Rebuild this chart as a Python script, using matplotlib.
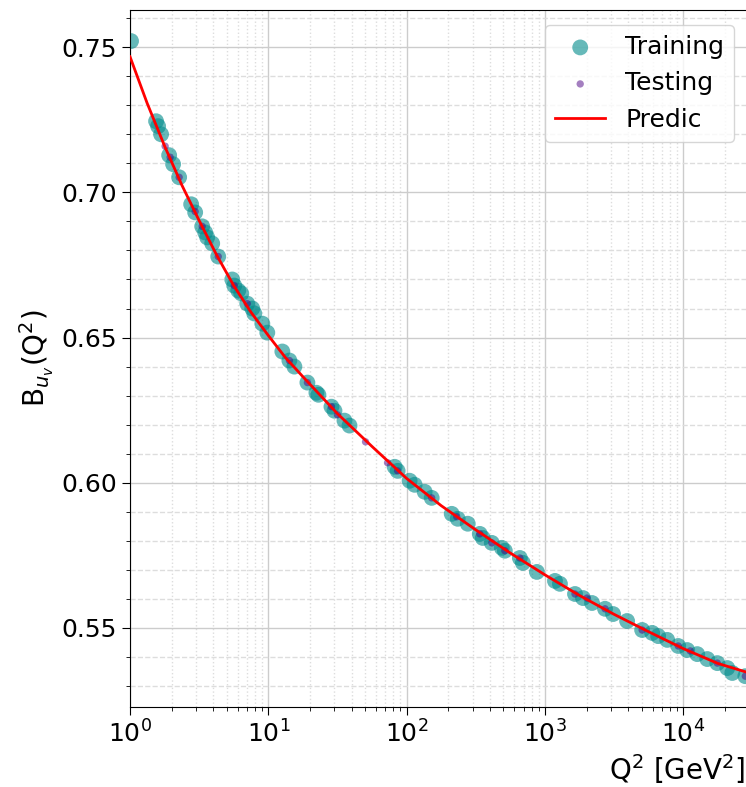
import matplotlib.pyplot as plt
from matplotlib.ticker import MultipleLocator

# training points: Q^2 and B_uv
q2_train = [1.017, 1.543, 1.596, 1.677, 1.918, 2.049, 2.265, 2.767, 2.958, 3.325,
            3.495, 3.614, 3.928, 4.342, 5.485, 5.671, 6.062, 6.373, 7.043, 7.656,
            7.917, 9.05, 9.83, 12.63, 14.20, 15.43, 19.17, 22.27, 23.03, 28.61,
            30.08, 35.53, 38.64, 81.9, 86.1, 105.1, 114.3, 135.0, 151.8, 211.9,
            234.2, 276.7, 338.1, 355.4, 413.0, 488.0, 512.9, 658.9, 692.8, 875.0,
            1182, 1284, 1650, 1886, 2191, 2721, 3111, 3929, 5046, 5963,
            6590, 7659, 9201, 10690, 12630, 14930, 17640, 20830, 22650, 28130]
b_train = [0.7521, 0.7245, 0.7228, 0.7200, 0.7128, 0.7097, 0.7052, 0.6959, 0.6931, 0.6883,
           0.6862, 0.6845, 0.6824, 0.6779, 0.6700, 0.6679, 0.6662, 0.6652, 0.6617, 0.6600,
           0.6583, 0.6548, 0.6517, 0.6452, 0.6421, 0.6400, 0.6345, 0.6310, 0.6303, 0.6262,
           0.6248, 0.6214, 0.6197, 0.6055, 0.6041, 0.6007, 0.5993, 0.5969, 0.5948, 0.5893,
           0.5876, 0.5859, 0.5824, 0.5810, 0.5793, 0.5776, 0.5766, 0.5741, 0.5724, 0.5693,
           0.5662, 0.5652, 0.5617, 0.5603, 0.5586, 0.5566, 0.5548, 0.5524, 0.5493, 0.5483,
           0.5472, 0.5459, 0.5438, 0.5424, 0.5410, 0.5393, 0.5379, 0.5362, 0.5345, 0.5334]

# testing points
q2_test = [1.794, 1.949, 2.265, 2.958, 3.325, 4.342, 5.671, 7.043, 14.20, 19.17,
           28.61, 31.62, 50.45, 72.8, 86.1, 151.8, 230.3, 338.1, 413.0, 512.9,
           658.9, 1650, 2015, 2721, 5046, 9201, 11240, 17640, 28130]
b_test = [0.7159, 0.7121, 0.7052, 0.6934, 0.6883, 0.6779, 0.6679, 0.6617, 0.6421, 0.6345,
          0.6262, 0.6234, 0.6141, 0.6069, 0.6041, 0.5948, 0.5883, 0.5824, 0.5793, 0.5766,
          0.5741, 0.5617, 0.5603, 0.5566, 0.5493, 0.5438, 0.5421, 0.5379, 0.5334]

# prediction curve
q2_pred = [1, 1.33, 1.78, 2.37, 3.16, 4.22, 5.62, 7.5, 10, 13.3, 17.8, 31.6, 56.2,
           100, 178, 316, 562, 1000, 1778, 3162, 5623, 10000, 17780, 30000]
b_pred = [0.7467, 0.7307, 0.7159, 0.7025, 0.6903, 0.6785, 0.6679, 0.6587, 0.6507, 0.6431,
          0.6365, 0.6238, 0.6125, 0.6015, 0.5921, 0.5838, 0.5758, 0.5683, 0.5612, 0.5547,
          0.5487, 0.5429, 0.5378, 0.5345]

fig = plt.figure(figsize=(7.46, 7.87), dpi=100)
ax = fig.add_axes([0.1743, 0.1017, 0.83, 0.8856])

ax.scatter(q2_train, b_train, s=130, color='darkcyan', alpha=0.6, edgecolors='none',
           label='Training', zorder=2)
ax.scatter(q2_test, b_test, s=28, color='indigo', alpha=0.5, edgecolors='none',
           label='Testing', zorder=3)
ax.plot(q2_pred, b_pred, color='red', lw=2, label='Predic', zorder=4)

ax.set_xscale('log')
ax.set_xlim(1, 3e4)
ax.set_ylim(0.5228, 0.7628)
ax.yaxis.set_major_locator(MultipleLocator(0.05))
ax.yaxis.set_minor_locator(MultipleLocator(0.01))

ax.grid(which='major', color='#cccccc', lw=1)
ax.xaxis.grid(which='minor', color='#dddddd', ls=':', lw=1)
ax.yaxis.grid(which='minor', color='#dddddd', ls='--', lw=1)
ax.set_axisbelow(True)

ax.tick_params(axis='both', which='major', labelsize=18, length=6)
ax.tick_params(axis='both', which='minor', length=3)

ax.set_xlabel('Q$^2$ [GeV$^2$]', fontsize=20, ha='right')
ax.xaxis.set_label_coords(0.9935, -0.065)
ax.set_ylabel('B$_{u_v}$(Q$^2$)', fontsize=20)

ax.legend(loc='upper right', fontsize=18, borderaxespad=0.6)

fig.savefig('out.png', dpi=100)
